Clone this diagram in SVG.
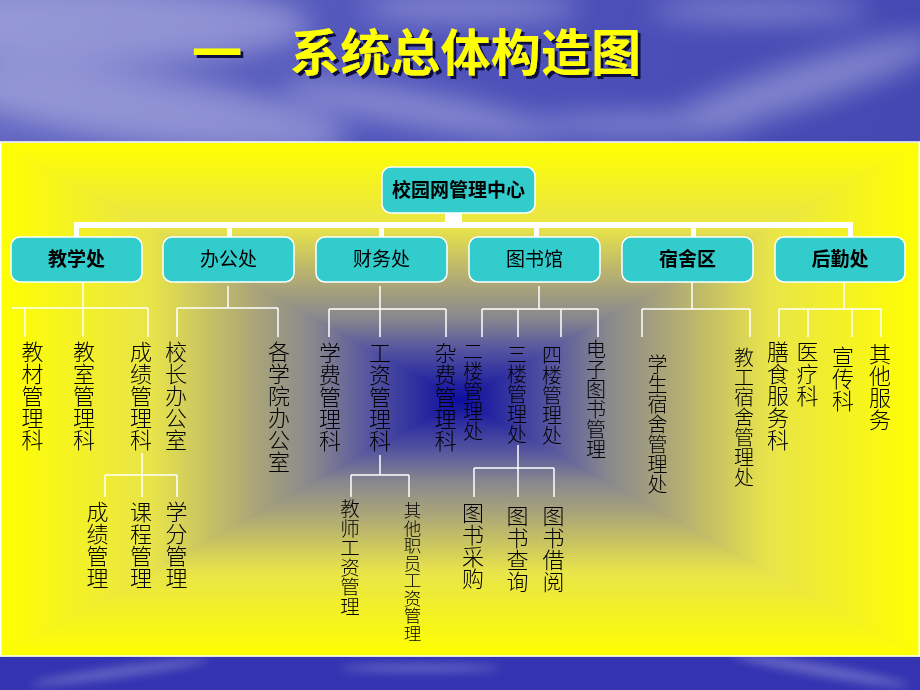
<svg xmlns="http://www.w3.org/2000/svg" width="920" height="690" viewBox="0 0 920 690">
<defs>
<style>
.box{fill:#33CCCC;stroke:#ffffff;stroke-width:1.5}
.bt{font-family:"Noto Sans CJK SC","Noto Sans",sans-serif;font-size:19px;text-anchor:middle;fill:#000}
.b{font-weight:bold}
.v{font-family:"Noto Sans CJK SC",sans-serif;writing-mode:vertical-rl;fill:#000;font-size:22px;font-weight:300}
.s20{font-size:20px}
.s19{font-size:19.5px}
.s17{font-size:17.5px}
.ln{fill:none;stroke:#ffffff;stroke-width:1.5}
.thick{fill:#ffffff}
.cl{fill:#ffffff}
.tt{font-family:"Noto Sans CJK SC",sans-serif;font-size:50px;font-weight:bold;fill:#ffff00}
</style>
<linearGradient id="sky" x1="0" y1="0" x2="1" y2="0.3">
<stop offset="0" stop-color="#6569c3"/>
<stop offset="0.45" stop-color="#4f53ba"/>
<stop offset="1" stop-color="#4247b2"/>
</linearGradient>
<linearGradient id="gT" gradientUnits="userSpaceOnUse" x1="0" y1="143" x2="0" y2="400">
<stop offset="0" stop-color="#ffff00"/>
<stop offset="0.33" stop-color="#e8e44a"/>
<stop offset="0.55" stop-color="#aca678"/>
<stop offset="0.68" stop-color="#88888e"/>
<stop offset="0.8" stop-color="#5656a0"/>
<stop offset="1" stop-color="#0c0ca0"/>
</linearGradient>
<linearGradient id="gB" gradientUnits="userSpaceOnUse" x1="0" y1="656" x2="0" y2="400">
<stop offset="0" stop-color="#ffff00"/>
<stop offset="0.33" stop-color="#e8e44a"/>
<stop offset="0.55" stop-color="#aca678"/>
<stop offset="0.68" stop-color="#88888e"/>
<stop offset="0.8" stop-color="#5656a0"/>
<stop offset="1" stop-color="#0c0ca0"/>
</linearGradient>
<linearGradient id="gL" gradientUnits="userSpaceOnUse" x1="0" y1="0" x2="460" y2="0">
<stop offset="0" stop-color="#ffff00"/>
<stop offset="0.33" stop-color="#e8e44a"/>
<stop offset="0.55" stop-color="#aca678"/>
<stop offset="0.68" stop-color="#88888e"/>
<stop offset="0.8" stop-color="#5656a0"/>
<stop offset="1" stop-color="#0c0ca0"/>
</linearGradient>
<linearGradient id="gR" gradientUnits="userSpaceOnUse" x1="920" y1="0" x2="460" y2="0">
<stop offset="0" stop-color="#ffff00"/>
<stop offset="0.33" stop-color="#e8e44a"/>
<stop offset="0.55" stop-color="#aca678"/>
<stop offset="0.68" stop-color="#88888e"/>
<stop offset="0.8" stop-color="#5656a0"/>
<stop offset="1" stop-color="#0c0ca0"/>
</linearGradient>
<filter id="blur" x="-50%" y="-50%" width="200%" height="200%"><feGaussianBlur stdDeviation="14"/></filter>
<filter id="blur2" x="-50%" y="-50%" width="200%" height="200%"><feGaussianBlur stdDeviation="5"/></filter>
<filter id="shadow" x="-10%" y="-20%" width="130%" height="150%"><feDropShadow dx="3" dy="3" stdDeviation="0.6" flood-color="#0c0c40" flood-opacity="1"/></filter>
</defs>

<g id="background">
<rect x="0" y="0" width="920" height="690" fill="url(#sky)"/>
<g filter="url(#blur)" opacity="0.32">
<ellipse class="cl" cx="90" cy="25" rx="220" ry="40"/>
<ellipse class="cl" cx="150" cy="110" rx="200" ry="35" transform="rotate(8 150 110)"/>
<ellipse class="cl" cx="420" cy="110" rx="140" ry="18" transform="rotate(10 420 110)"/>
<ellipse class="cl" cx="470" cy="8" rx="110" ry="14"/>
<ellipse class="cl" cx="800" cy="85" rx="150" ry="22" transform="rotate(-18 800 85)"/>
<ellipse class="cl" cx="640" cy="125" rx="110" ry="12"/>
<ellipse class="cl" cx="760" cy="10" rx="110" ry="12"/>
</g>
<rect x="0" y="656" width="920" height="34" fill="#3434b2"/>
<g filter="url(#blur2)" opacity="0.25">
<ellipse class="cl" cx="120" cy="672" rx="90" ry="5" transform="rotate(-8 120 672)"/>
<ellipse class="cl" cx="420" cy="668" rx="80" ry="4"/>
<ellipse class="cl" cx="820" cy="670" rx="90" ry="6" transform="rotate(10 820 670)"/>
</g>
<g id="panel">
<polygon points="0,143 920,143 460,400" fill="url(#gT)" stroke="url(#gT)" stroke-width="1"/>
<polygon points="0,656 920,656 460,400" fill="url(#gB)" stroke="url(#gB)" stroke-width="1"/>
<polygon points="0,143 0,656 460,400" fill="url(#gL)" stroke="url(#gL)" stroke-width="1"/>
<polygon points="920,143 920,656 460,400" fill="url(#gR)" stroke="url(#gR)" stroke-width="1"/>
<rect x="0.75" y="142" width="918.5" height="514" fill="none" stroke="#ffffff" stroke-width="1.5"/>
</g>
</g>

<g id="title" filter="url(#shadow)">
<text class="tt" x="192" y="71">一</text>
<text class="tt" x="290" y="71" textLength="351">系统总体构造图</text>
</g>

<g id="connectors">
<rect class="thick" x="445" y="212" width="17" height="11"/>
<rect class="thick" x="74" y="222" width="779" height="6"/>
<rect class="thick" x="74" y="227" width="5" height="10"/>
<rect class="thick" x="227" y="227" width="5" height="10"/>
<rect class="thick" x="379" y="227" width="5" height="10"/>
<rect class="thick" x="534" y="227" width="5" height="10"/>
<rect class="thick" x="691" y="227" width="5" height="10"/>
<rect class="thick" x="848" y="227" width="5" height="10"/>
<path class="ln" d="M83,282V308M12,308H148M25,308V337M83,308V337M148,308V337" stroke-width="2"/>
<path class="ln" d="M142,453V475M105,475H177M105,475V497M142,475V497M177,475V497"/>
<path class="ln" d="M228,286V308M177,308H278M177,308V337M278,308V337"/>
<path class="ln" d="M380,286V309M329,309H446M329,309V337M380,309V337M446,309V337"/>
<path class="ln" d="M380,455V475M351,475H409M351,475V497M409,475V497"/>
<path class="ln" d="M539,286V309M482,309H598M482,309V337M518,309V337M561,309V337M598,309V337"/>
<path class="ln" d="M518,445V468M474,468H554M474,468V497M518,468V497M554,468V497"/>
<path class="ln" d="M692,282V309M642,309H750M642,309V337M750,309V337"/>
<path class="ln" d="M844,282V309M779,309H881M779,309V337M808,309V337M852,309V337M881,309V337"/>
</g>

<g id="root">
<rect class="box" x="382" y="167" width="153" height="46" rx="9"/>
<text class="bt b" x="458.5" y="197">校园网管理中心</text>
</g>
<g id="jiaoxue">
<rect class="box" x="11" y="237" width="131" height="45" rx="9"/>
<text class="bt b" x="76.5" y="266">教学处</text>
</g>
<g id="bangong">
<rect class="box" x="163" y="237" width="131" height="45" rx="9"/>
<text class="bt" x="228.5" y="266">办公处</text>
</g>
<g id="caiwu">
<rect class="box" x="316" y="237" width="131" height="45" rx="9"/>
<text class="bt" x="381.5" y="266">财务处</text>
</g>
<g id="tushuguan">
<rect class="box" x="469" y="237" width="131" height="45" rx="9"/>
<text class="bt" x="534.5" y="266">图书馆</text>
</g>
<g id="sushe">
<rect class="box" x="622" y="237" width="131" height="45" rx="9"/>
<text class="bt b" x="687.5" y="266">宿舍区</text>
</g>
<g id="houqin">
<rect class="box" x="775" y="237" width="130" height="45" rx="9"/>
<text class="bt b" x="840" y="266">后勤处</text>
</g>

<g id="leaf-jiaocai"><text class="v" x="32.5" y="341">教材管理科</text></g>
<g id="leaf-jiaoshi"><text class="v" x="84" y="341">教室管理科</text></g>
<g id="leaf-chengji"><text class="v" x="141" y="341">成绩管理科</text></g>
<g id="leaf-xiaozhang"><text class="v" x="176" y="341">校长办公室</text></g>
<g id="leaf-xueyuan"><text class="v" x="279" y="341">各学院办公室</text></g>
<g id="leaf-xuefei"><text class="v" x="330" y="342">学费管理科</text></g>
<g id="leaf-gongzi"><text class="v" x="380" y="342">工资管理科</text></g>
<g id="leaf-zafei"><text class="v" x="445.5" y="342">杂费管理科</text></g>
<g id="leaf-erlou"><text class="v s20" x="473" y="341">二楼管理处</text></g>
<g id="leaf-sanlou"><text class="v s20" x="517" y="344">三楼管理处</text></g>
<g id="leaf-silou"><text class="v s20" x="552" y="345">四楼管理处</text></g>
<g id="leaf-dianzi"><text class="v s20" x="596" y="339">电子图书管理</text></g>
<g id="leaf-xuesheng"><text class="v s20" x="657.5" y="354">学生宿舍管理处</text></g>
<g id="leaf-jiaogong"><text class="v s20" x="744" y="347">教工宿舍管理处</text></g>
<g id="leaf-shanshi"><text class="v" x="778" y="341">膳食服务科</text></g>
<g id="leaf-yiliao"><text class="v" x="807.5" y="341">医疗科</text></g>
<g id="leaf-xuanchuan"><text class="v" x="843" y="346">宣传科</text></g>
<g id="leaf-qita"><text class="v" x="880" y="343">其他服务</text></g>
<g id="leaf-cjgl"><text class="v" x="97.5" y="501">成绩管理</text></g>
<g id="leaf-kcgl"><text class="v" x="141" y="501">课程管理</text></g>
<g id="leaf-xfgl"><text class="v" x="176.5" y="501">学分管理</text></g>
<g id="leaf-jsgz"><text class="v s19" x="350" y="499">教师工资管理</text></g>
<g id="leaf-qtzy"><text class="v s17" x="412.5" y="502">其他职员工资管理</text></g>
<g id="leaf-tscg"><text class="v" x="473" y="502">图书采购</text></g>
<g id="leaf-tscx"><text class="v" x="517.5" y="505">图书查询</text></g>
<g id="leaf-tsjy"><text class="v" x="553.5" y="505">图书借阅</text></g>
</svg>
